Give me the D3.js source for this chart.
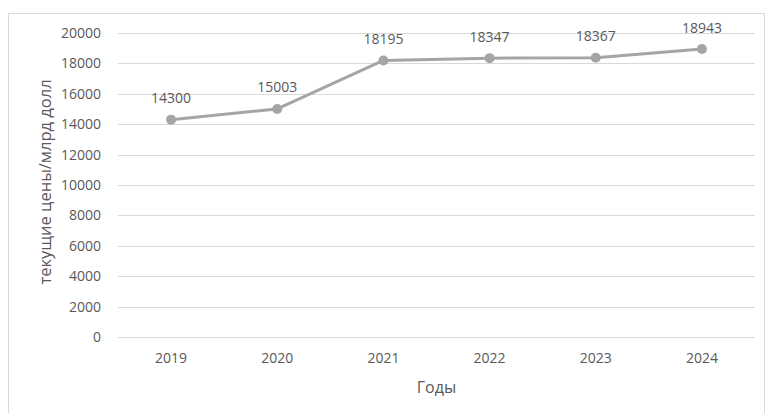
<!DOCTYPE html>
<html>
<head>
<meta charset="utf-8">
<script src="https://cdn.jsdelivr.net/npm/d3@7"></script>
<style>
body { margin: 0; background: #fff; }
text { font-family: "Open Sans", "Noto Sans", sans-serif; fill: #595959; }
</style>
</head>
<body>
<svg id="chart"></svg>
<script>
// годы и значения
var years = ['2019', '2020', '2021', '2022', '2023', '2024'];
var values = [14300, 15003, 18195, 18347, 18367, 18943];
var yTicks = [0, 2000, 4000, 6000, 8000, 10000, 12000, 14000, 16000, 18000, 20000];

var draw = function(){
    const width = 766, height = 413;
    var svg = d3.select('svg#chart')
    .attr('width', width)
    .attr('height', height);

    // рамка
    svg.append('rect')
    .attr('x', 8.5).attr('y', 13.5)
    .attr('width', 756).attr('height', 410)
    .style('fill', 'none')
    .style('stroke', '#d9d9d9');

    const left = 118, right = 755, top = 33, bottom = 337;

    let x = d3.scaleBand().domain(years).range([left, right]);
    let y = d3.scaleLinear().domain([0, 20000]).range([bottom, top]);

    // сетка
    svg.append('g').selectAll('line')
    .data(yTicks)
    .enter().append('line')
    .attr('x1', left).attr('x2', right)
    .attr('y1', d => Math.round(y(d)) + 0.5)
    .attr('y2', d => Math.round(y(d)) + 0.5)
    .style('stroke', '#d9d9d9')
    .style('stroke-width', 1);

    let yAxis = svg.append('g')
    .attr('transform', 'translate(' + (left - 17) + ',0)')
    .call(d3.axisLeft(y).tickValues(yTicks).tickFormat(d3.format('d')).tickSize(0).tickPadding(0));
    yAxis.select('.domain').remove();
    yAxis.selectAll('text').style('font-size', '14px').style('fill', '#595959');

    let xAxis = svg.append('g')
    .attr('transform', 'translate(0,' + (bottom + 16) + ')')
    .call(d3.axisBottom(x).tickSize(0).tickPadding(0));
    xAxis.select('.domain').remove();
    xAxis.selectAll('text').style('font-size', '14px').style('fill', '#595959');

    let line = d3.line()
    .x((d, i) => x(years[i]) + x.bandwidth() / 2)
    .y(d => y(d));

    svg.append('path')
    .attr('d', line(values))
    .style('fill', 'none')
    .style('stroke', '#a5a5a5')
    .style('stroke-width', 3)
    .style('stroke-linejoin', 'round');

    svg.append('g').selectAll('circle')
    .data(values)
    .enter().append('circle')
    .attr('cx', (d, i) => x(years[i]) + x.bandwidth() / 2)
    .attr('cy', d => y(d))
    .attr('r', 5)
    .style('fill', '#a5a5a5');

    svg.append('g').selectAll('text')
    .data(values)
    .enter().append('text')
    .attr('x', (d, i) => x(years[i]) + x.bandwidth() / 2)
    .attr('y', d => y(d) - 16.5)
    .attr('text-anchor', 'middle')
    .style('font-size', '14px')
    .text(d => d);

    svg.append('text')
    .attr('x', (left + right) / 2)
    .attr('y', 393)
    .attr('text-anchor', 'middle')
    .style('font-size', '16px')
    .text('Годы');

    svg.append('text')
    .attr('transform', 'translate(51,182) rotate(-90)')
    .attr('text-anchor', 'middle')
    .style('font-size', '16.5px')
    .text('текущие цены/млрд долл');
}

draw();
</script>
</body>
</html>
